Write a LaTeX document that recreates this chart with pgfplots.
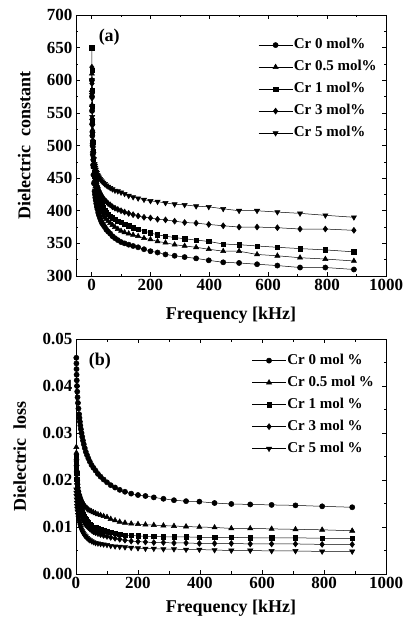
\documentclass[border=0pt]{standalone}
\usepackage{fontspec}
\setmainfont{Liberation Serif}
\usepackage{pgfplots}
\usepackage{pgfplotstable}
\pgfplotsset{compat=1.18}

% frequency in kHz, dielectric constant for each Cr content
\pgfplotstableread{
f c0 c05 c1 c3 c5
1.00 600 610 650 620 600
1.26 575 585 615 595 578
1.58 553 562 585 573 560
2.00 533 542 560 555 544
2.51 515 523 538 538 530
3.16 500 505 520 523 518
3.98 486 492 505 508 506
5.01 470 480 491 494 496
6.31 455 468 479 482 487
7.94 442 457 468 471 479
10.0 430 447 458 462 472
11.2 425 442 453 458 469
12.6 420 437 448 454 466
14.1 416 432 443 450 463
15.8 411 427 439 446 460
17.8 406 423 434 442 458
20.0 402 418 429 438 455
22.4 397 413 425 435 453
25.1 393 409 421 431 451
28.2 389 404 416 428 449
31.6 385 400 412 425 447
35.5 381 397 408 422 445
39.8 378 393 405 419 443
44.7 375 390 401 416 441
50.1 371 387 398 414 439
56.2 368 384 395 411 437
63.1 365 381 392 409 435
70.8 361 378 389 406 433
79.4 358 375 387 404 431
89.1 355 372 384 402 430
100 352 369 382 400 428
112 350 367 379 398 426
126 348 365 377 396 423
141 346 363 374 394 421
158 344 361 372 392 419
178 341 358 369 390 417
200 338 356 366 389 415
224 336 353 363 387 414
251 333 351 361 386 412
282 331 348 359 384 410
316 329 346 357 382 409
355 327 344 355 381 407
398 324 341 353 379 406
447 321 338 349 377 403
501 320 338 348 375 400
562 318 333 346 375 400
631 316 331 344 374 398
708 313 328 342 372 396
794 313 326 340 372 393
891 310 323 337 370 390
}\epsdata

% frequency in kHz, dielectric loss for each Cr content
\pgfplotstableread{
f c0 c05 c1 c3 c5
1.00 .0460 .0270 .0250 .0240 .0180
1.26 .0448 .0258 .0238 .0228 .0173
1.58 .0436 .0246 .0226 .0216 .0166
2.00 .0424 .0234 .0214 .0204 .0159
2.51 .0412 .0222 .0202 .0192 .0152
3.16 .0400 .0212 .0190 .0180 .0145
3.98 .0388 .0203 .0182 .0172 .0139
5.01 .0376 .0194 .0174 .0165 .0133
6.31 .0364 .0186 .0167 .0158 .0126
7.94 .0352 .0179 .0161 .0151 .0120
10.0 .0340 .0172 .0155 .0145 .0115
11.2 .0332 .0169 .0151 .0141 .0111
12.6 .0324 .0166 .0147 .0137 .0107
14.1 .0316 .0163 .0143 .0133 .0103
15.8 .0308 .0160 .0139 .0129 .0099
17.8 .0300 .0157 .0135 .0125 .0095
20.0 .0292 .0154 .0131 .0121 .0091
22.4 .0284 .0151 .0127 .0117 .0088
25.1 .0276 .0148 .0123 .0113 .0085
28.2 .0268 .0145 .0119 .0109 .0082
31.6 .0260 .0142 .0115 .0105 .0080
35.5 .0253 .0140 .0112 .0102 .0077
39.8 .0246 .0137 .0109 .0099 .0074
44.7 .0239 .0135 .0106 .0096 .0072
50.1 .0232 .0133 .0103 .0093 .0070
56.2 .0226 .0131 .0100 .0090 .0068
63.1 .0220 .0129 .0098 .0088 .0066
70.8 .0213 .0127 .0096 .0086 .0065
79.4 .0207 .0125 .0094 .0084 .0064
89.1 .0201 .0123 .0092 .0082 .0063
100 .0195 .0121 .0091 .0080 .0062
112 .0189 .0117 .0089 .0078 .0060
126 .0184 .0114 .0087 .0076 .0059
141 .0179 .0111 .0085 .0074 .0058
158 .0175 .0109 .0083 .0072 .0057
178 .0171 .0107 .0082 .0070 .0056
200 .0168 .0106 .0081 .0069 .0055
224 .0166 .0105 .0080 .0068 .0054
251 .0163 .0104 .0080 .0067 .0054
282 .0160 .0103 .0079 .0067 .0053
316 .0157 .0102 .0079 .0066 .0053
355 .0155 .0101 .0079 .0066 .0052
398 .0154 .0100 .0078 .0065 .0052
447 .0151 .0099 .0078 .0065 .0051
501 .0149 .0097 .0078 .0065 .0050
562 .0148 .0097 .0077 .0064 .0050
631 .0147 .0096 .0077 .0064 .0049
708 .0146 .0095 .0077 .0064 .0049
794 .0144 .0094 .0076 .0063 .0048
891 .0142 .0092 .0076 .0063 .0048
}\lossdata

\newcommand{\labfont}{\fontsize{18}{20}\selectfont\bfseries}
\newcommand{\tickfont}{\fontsize{17}{19}\selectfont\bfseries}
\newcommand{\legfont}{\fontsize{15}{17}\selectfont\bfseries}

\pgfplotsset{
  panel/.style={
    scale only axis, width=310pt,
    xmax=1000, xtick={0,200,...,1000},
    minor x tick num=1, minor y tick num=1,
    tick align=inside, major tick length=4pt, minor tick length=2.5pt,
    tick style={black, line width=0.6pt},
    axis line style={line width=0.8pt},
    ticklabel style={font=\tickfont},
    /pgf/number format/assume math mode=true,
    /pgf/number format/set thousands separator={},
    xlabel style={font=\labfont, anchor=north},
    ylabel style={font=\labfont, rotate=0, anchor=south},
    legend cell align=left,
    legend style={draw=none, fill=none, inner sep=0pt, font=\legfont,
      row sep=5pt, nodes={inner sep=1pt, text height=11pt, text depth=4pt}},
    legend image code/.code={
      \draw[mark repeat=2, mark phase=2, #1]
        plot coordinates {(0pt,0pt) (17pt,0pt) (34pt,0pt)};},
    every axis plot/.append style={black, line width=0.5pt, mark size=2.6pt},
  },
}

\begin{document}
\begin{tikzpicture}
\begin{axis}[panel, name=a, height=261pt,
    at={(0pt,0pt)}, anchor=south west,
    xmin=-53, ymin=300, ymax=700, ytick={300,350,...,700},
    xlabel={Frequency [kHz]}, ylabel={Dielectric\ \ constant},
    xlabel style={at={(axis description cs:0.5,-0.105)}},
    ylabel style={at={(axis description cs:-0.135,0.5)}},
    legend style={at={(axis description cs:0.974,0.918)}, anchor=north east},
]
\addplot[mark=*] table[x=f, y=c0] {\epsdata};
\addlegendentry{Cr 0 mol\%}
\addplot[mark=triangle*, mark size=3pt] table[x=f, y=c05] {\epsdata};
\addlegendentry{Cr 0.5 mol\%}
\addplot[mark=square*, mark size=2.2pt] table[x=f, y=c1] {\epsdata};
\addlegendentry{Cr 1 mol\%}
\addplot[mark=diamond*, mark size=3pt] table[x=f, y=c3] {\epsdata};
\addlegendentry{Cr 3 mol\%}
\addplot[mark=triangle*, mark size=3pt, mark options={rotate=180}] table[x=f, y=c5] {\epsdata};
\addlegendentry{Cr 5 mol\%}
\node[font=\labfont, anchor=west] at (axis description cs:0.062,0.916) {(a)};
\end{axis}

\begin{axis}[panel, name=b, height=235pt,
    at={(0pt,-63pt)}, anchor=north west,
    xmin=0, ymin=0, ymax=0.05, ytick={0,0.01,...,0.05},
    scaled y ticks=false,
    yticklabel style={/pgf/number format/.cd, fixed, fixed zerofill, precision=2},
    xlabel={Frequency [kHz]}, ylabel={Dielectric\ \ loss},
    xlabel style={at={(axis description cs:0.5,-0.095)}},
    ylabel style={at={(axis description cs:-0.15,0.5)}},
    legend style={at={(axis description cs:0.965,0.945)}, anchor=north east},
]
\addplot[mark=*] table[x=f, y=c0] {\lossdata};
\addlegendentry{Cr 0 mol \%}
\addplot[mark=triangle*, mark size=3pt] table[x=f, y=c05] {\lossdata};
\addlegendentry{Cr 0.5 mol \%}
\addplot[mark=square*, mark size=2.2pt] table[x=f, y=c1] {\lossdata};
\addlegendentry{Cr 1 mol \%}
\addplot[mark=diamond*, mark size=3pt] table[x=f, y=c3] {\lossdata};
\addlegendentry{Cr 3 mol \%}
\addplot[mark=triangle*, mark size=3pt, mark options={rotate=180}] table[x=f, y=c5] {\lossdata};
\addlegendentry{Cr 5 mol \%}
\node[font=\labfont, anchor=west] at (axis description cs:0.03,0.904) {(b)};
\end{axis}

\useasboundingbox (-76pt,276pt) rectangle (335pt,-353pt);
\end{tikzpicture}
\end{document}
